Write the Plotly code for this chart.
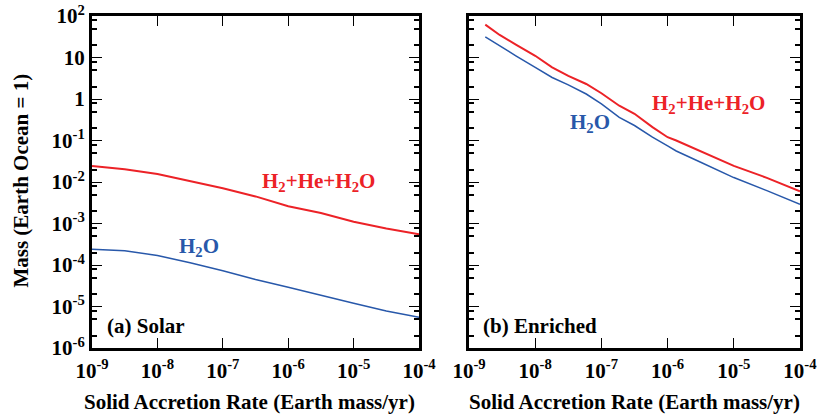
import plotly.graph_objects as go

# ---------------- data ----------------
solar_x = [1e-9, 3.16e-9, 1e-8, 3.16e-8, 1e-7, 3.16e-7, 1e-6, 3.16e-6, 1e-5, 3.16e-5, 1e-4]
solar_total = [0.0243, 0.0204, 0.0156, 0.0107, 0.0071, 0.0045, 0.0026, 0.0018, 0.0011, 7.6e-4, 5.5e-4]
solar_h2o = [2.4e-4, 2.2e-4, 1.7e-4, 1.14e-4, 7.3e-5, 4.5e-5, 2.9e-5, 1.9e-5, 1.2e-5, 7.8e-6, 5.5e-6]

enr_x = [1.76e-9, 2.9e-9, 5.1e-9, 1e-8, 1.8e-8, 3.16e-8, 5.9e-8, 1e-7, 1.86e-7,
         3.16e-7, 5.9e-7, 1e-6, 1.35e-6, 3.16e-6, 1e-5, 3.16e-5, 1e-4]
enr_total = [62, 35, 20.5, 11, 5.8, 3.6, 2.3, 1.38, 0.69, 0.44, 0.21, 0.12, 0.10,
             0.056, 0.0245, 0.0126, 0.006]
enr_h2o = [31.6, 19, 11, 5.8, 3.3, 2.2, 1.32, 0.76, 0.36, 0.23, 0.12, 0.074, 0.056,
           0.03, 0.0128, 0.0062, 0.0029]

x_tickvals = [1e-9, 1e-8, 1e-7, 1e-6, 1e-5, 1e-4]
x_ticktext = ["10<sup>-9</sup>", "10<sup>-8</sup>", "10<sup>-7</sup>", "10<sup>-6</sup>",
              "10<sup>-5</sup>", "10<sup>-4</sup>"]
y_tickvals = [1e-6, 1e-5, 1e-4, 1e-3, 1e-2, 1e-1, 1, 10, 100]
y_ticktext = ["10<sup>-6</sup>", "10<sup>-5</sup>", "10<sup>-4</sup>", "10<sup>-3</sup>",
              "10<sup>-2</sup>", "10<sup>-1</sup>", "1", "10", "10<sup>2</sup>"]
y_minor = [m * 10.0 ** d for d in range(-6, 2) for m in (2, 5, 8)]

x_title = "Solid Accretion Rate (Earth mass/yr)"
y_title = "Mass (Earth Ocean = 1)"

RED = "rgb(236,34,39)"
BLUE = "rgb(40,88,170)"
FONT = "Liberation Serif, Times New Roman, serif"

fig = go.Figure()
fig.add_trace(go.Scatter(x=solar_x, y=solar_total, mode="lines", line=dict(color=RED, width=2),
                         xaxis="x", yaxis="y", showlegend=False))
fig.add_trace(go.Scatter(x=solar_x, y=solar_h2o, mode="lines", line=dict(color=BLUE, width=1.5),
                         xaxis="x", yaxis="y", showlegend=False))
fig.add_trace(go.Scatter(x=enr_x, y=enr_total, mode="lines", line=dict(color=RED, width=2),
                         xaxis="x2", yaxis="y2", showlegend=False))
fig.add_trace(go.Scatter(x=enr_x, y=enr_h2o, mode="lines", line=dict(color=BLUE, width=1.5),
                         xaxis="x2", yaxis="y2", showlegend=False))

tickfont = dict(family=FONT, size=21, color="black", weight="bold")

xcommon = dict(type="log", range=[-9, -4], tickmode="array", tickvals=x_tickvals,
               ticktext=x_ticktext, ticks="inside", ticklen=10, tickwidth=1.2,
               tickcolor="black", showline=True, linewidth=3, linecolor="black",
               mirror="allticks", showgrid=False, zeroline=False, tickfont=tickfont,
               ticklabelstandoff=2, automargin=False)
ycommon = dict(type="log", range=[-6, 2], tickmode="array", tickvals=y_tickvals,
               ticktext=y_ticktext, ticks="inside", ticklen=10, tickwidth=1.2,
               tickcolor="black", showline=True, linewidth=3, linecolor="black",
               mirror="allticks", showgrid=False, zeroline=False, tickfont=tickfont,
               automargin=False,
               minor=dict(tickmode="array", tickvals=y_minor, ticks="inside", ticklen=5,
                          tickwidth=2.2, tickcolor="black", showgrid=False),
               domain=[0.1614, 0.9614])

fig.update_layout(
    width=821, height=415,
    margin=dict(l=0, r=0, t=0, b=0, pad=0, autoexpand=False),
    paper_bgcolor="white", plot_bgcolor="white",
    font=dict(family=FONT, size=21, color="black"),
    xaxis=dict(xcommon, domain=[0.1121, 0.5104], anchor="y"),
    yaxis=dict(ycommon, anchor="x"),
    xaxis2=dict(xcommon, domain=[0.5713, 0.9744], anchor="y2"),
    yaxis2=dict(ycommon, anchor="x2", showticklabels=False),
)

lab = dict(family=FONT, size=21, weight="bold")
ann = [
    dict(x=-5.53, y=-2.0, xref="x", yref="y", text="H<sub>2</sub>+He+H<sub>2</sub>O",
         font=dict(lab, color=RED)),
    dict(x=-7.36, y=-3.56, xref="x", yref="y", text="H<sub>2</sub>O",
         font=dict(lab, color=BLUE)),
    dict(x=-5.375, y=-0.12, xref="x2", yref="y2", text="H<sub>2</sub>+He+H<sub>2</sub>O",
         font=dict(lab, color=RED)),
    dict(x=-7.17, y=-0.58, xref="x2", yref="y2", text="H<sub>2</sub>O",
         font=dict(lab, color=BLUE)),
    dict(x=-8.8, y=-5.47, xref="x", yref="y", text="(a) Solar", xanchor="left",
         font=dict(lab, color="black")),
    dict(x=-8.82, y=-5.47, xref="x2", yref="y2", text="(b) Enriched", xanchor="left",
         font=dict(lab, color="black")),
    dict(x=0.3033, y=0.032, xref="paper", yref="paper", text=x_title,
         font=dict(lab, color="black")),
    dict(x=0.7734, y=0.032, xref="paper", yref="paper", text=x_title,
         font=dict(lab, color="black")),
    dict(x=0.0256, y=0.565, xref="paper", yref="paper", text=y_title,
         textangle=-90, font=dict(lab, color="black")),
]
for a in ann:
    a.setdefault("showarrow", False)
    a.setdefault("xanchor", "center")
    a.setdefault("yanchor", "middle")
    fig.add_annotation(**a)

fig.write_html("out.html")
